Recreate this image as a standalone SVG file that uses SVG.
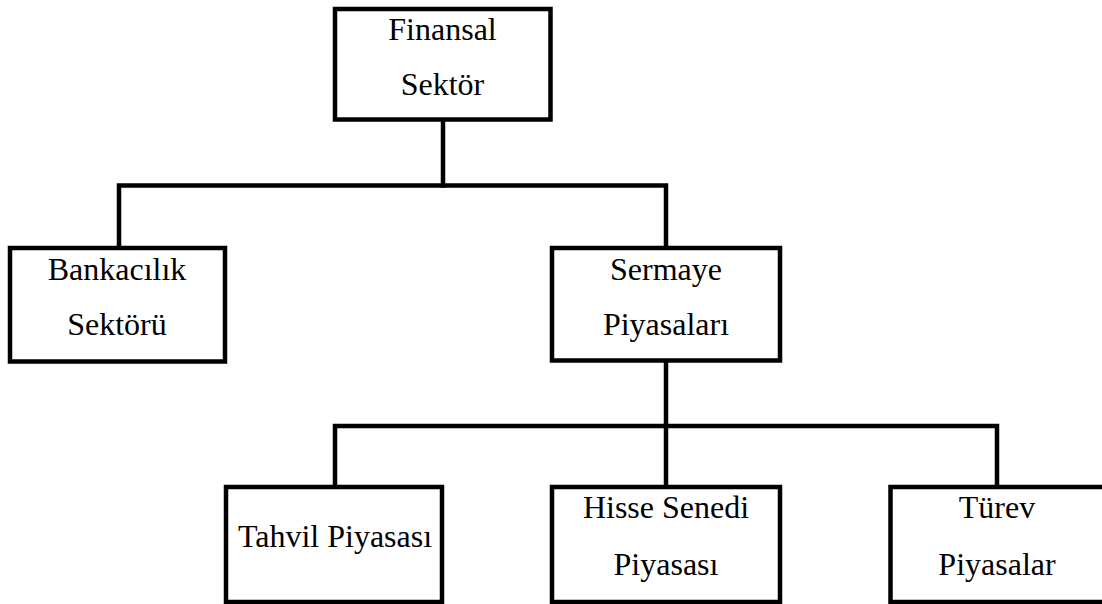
<svg xmlns="http://www.w3.org/2000/svg" width="1102" height="604" viewBox="0 0 1102 604">
  <style>
    .box { fill: #ffffff; stroke: #000000; stroke-width: 4.5; }
    .link { fill: none; stroke: #000000; stroke-width: 4.5; stroke-linecap: square; stroke-linejoin: miter; }
    .label { font-family: "Liberation Serif", "Times New Roman", serif; font-size: 32px; fill: #000000; text-anchor: middle; }
  </style>
  <rect width="1102" height="604" fill="#ffffff"/>

  <!-- tree connectors -->
  <g id="connectors">
    <path class="link" d="M443 119.5 V185.5"/>
    <path class="link" d="M119 248 V185.5 H666 V248"/>
    <path class="link" d="M666 360.5 V426"/>
    <path class="link" d="M335 487 V426 H997 V487"/>
    <path class="link" d="M666 426 V487"/>
  </g>

  <g id="finansal-sektor">
    <rect class="box" x="335" y="9" width="215.5" height="110.5"/>
    <text class="label" x="442.5" y="40">Finansal</text>
    <text class="label" x="442.5" y="95">Sektör</text>
  </g>

  <g id="bankacilik-sektoru">
    <rect class="box" x="10" y="248" width="215" height="113.5"/>
    <text class="label" x="117" y="280">Bankacılık</text>
    <text class="label" x="117" y="335">Sektörü</text>
  </g>

  <g id="sermaye-piyasalari">
    <rect class="box" x="552" y="248" width="228" height="112.5"/>
    <text class="label" x="666" y="280">Sermaye</text>
    <text class="label" x="666" y="335">Piyasaları</text>
  </g>

  <g id="tahvil-piyasasi">
    <rect class="box" x="226" y="487" width="216" height="115"/>
    <text class="label" x="335" y="547">Tahvil Piyasası</text>
  </g>

  <g id="hisse-senedi-piyasasi">
    <rect class="box" x="552" y="487" width="228" height="115"/>
    <text class="label" x="666" y="518">Hisse Senedi</text>
    <text class="label" x="666" y="575">Piyasası</text>
  </g>

  <g id="turev-piyasalar">
    <rect class="box" x="890.5" y="487" width="215" height="115"/>
    <text class="label" x="997" y="518">Türev</text>
    <text class="label" x="997" y="575">Piyasalar</text>
  </g>
</svg>
